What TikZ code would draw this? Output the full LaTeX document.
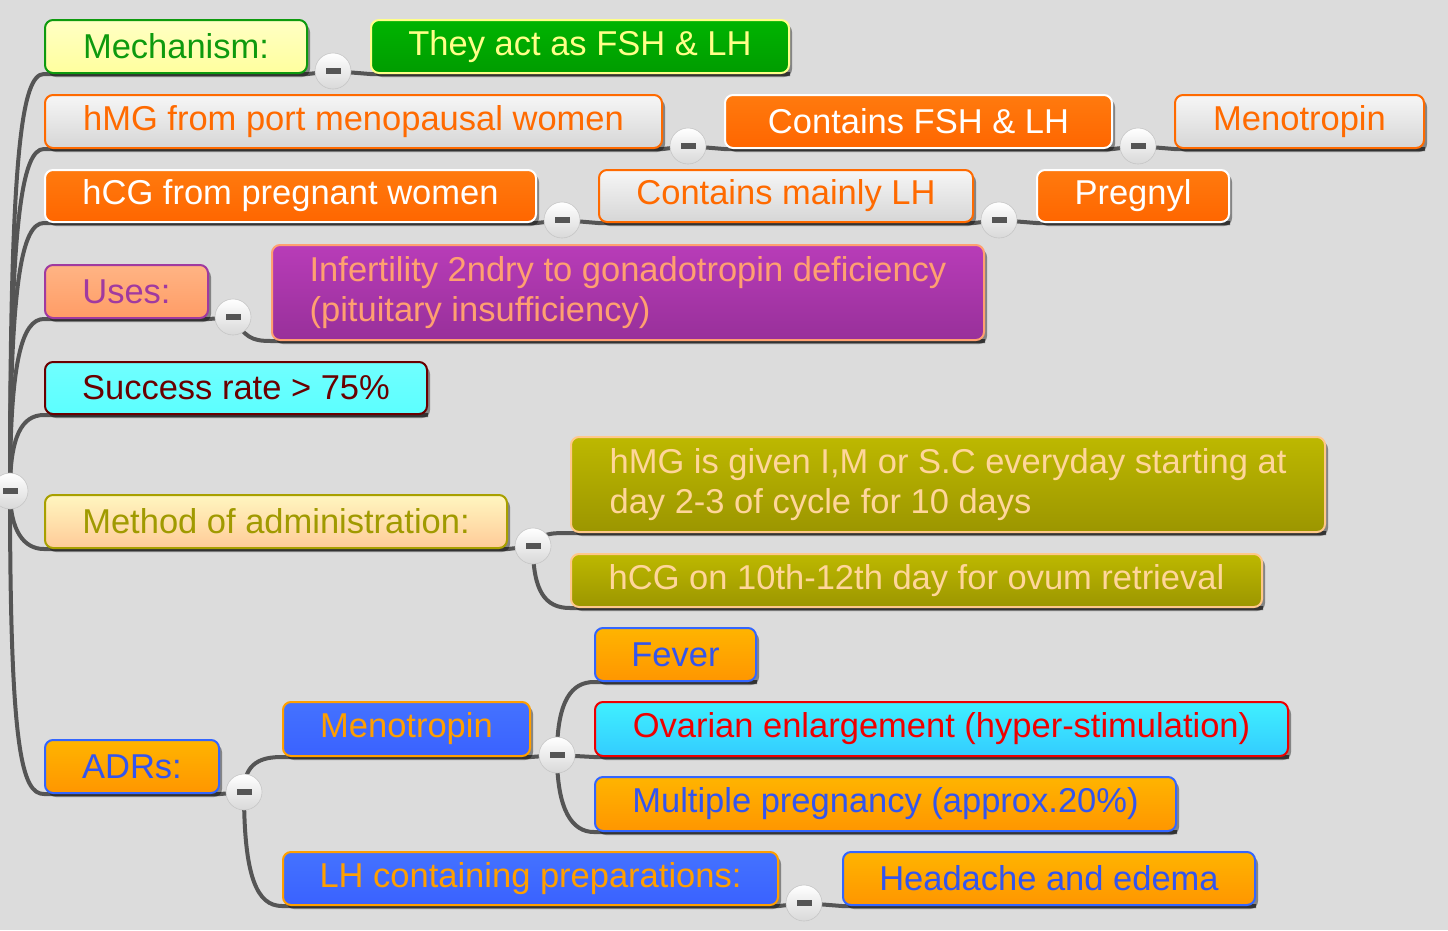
\documentclass[tikz,border=0pt]{standalone}
\usepackage{fontspec}
\setmainfont{Liberation Sans}
\usetikzlibrary{shadows,backgrounds}

\definecolor{paper}{HTML}{DCDCDC}
\definecolor{wire}{HTML}{555555}

\tikzset{
  box/.style={rectangle, rounded corners=8pt, line width=2pt, anchor=north west,
    inner sep=0pt, minimum height=53pt, font=\fontsize{34.5}{40}\selectfont,
    drop shadow={shadow xshift=3pt, shadow yshift=-4pt, opacity=.4, fill=black}},
  yellowbox/.style={top color={rgb,255:red,255;green,255;blue,196}, bottom color={rgb,255:red,255;green,255;blue,158},
    draw={rgb,255:red,14;green,154;blue,14}, text={rgb,255:red,14;green,154;blue,14}},
  greenbox/.style={top color={rgb,255:red,0;green,180;blue,0}, bottom color={rgb,255:red,0;green,156;blue,0},
    draw={rgb,255:red,255;green,255;blue,136}, text={rgb,255:red,255;green,255;blue,136}},
  palebox/.style={top color={rgb,255:red,246;green,246;blue,246}, bottom color={rgb,255:red,214;green,214;blue,214},
    draw={rgb,255:red,255;green,106;blue,0}, text={rgb,255:red,255;green,106;blue,0}},
  orangebox/.style={top color={rgb,255:red,255;green,122;blue,14}, bottom color={rgb,255:red,255;green,102;blue,0},
    draw=white, text=white},
  usesbox/.style={top color={rgb,255:red,255;green,180;blue,132}, bottom color={rgb,255:red,255;green,156;blue,102},
    draw={rgb,255:red,160;green,58;blue,160}, text={rgb,255:red,160;green,58;blue,160}},
  purplebox/.style={top color={rgb,255:red,184;green,60;blue,184}, bottom color={rgb,255:red,152;green,48;blue,154},
    draw={rgb,255:red,255;green,160;blue,112}, text={rgb,255:red,255;green,160;blue,112}},
  cyanbox/.style={top color={rgb,255:red,112;green,255;blue,255}, bottom color={rgb,255:red,92;green,255;blue,255},
    draw={rgb,255:red,106;green,0;blue,0}, text={rgb,255:red,106;green,0;blue,0}},
  peachbox/.style={top color={rgb,255:red,255;green,246;blue,192}, bottom color={rgb,255:red,255;green,203;blue,152},
    draw={rgb,255:red,168;green,160;blue,0}, text={rgb,255:red,160;green,154;blue,0}},
  olivebox/.style={top color={rgb,255:red,189;green,184;blue,0}, bottom color={rgb,255:red,156;green,150;blue,0},
    draw={rgb,255:red,255;green,200;blue,138}, text={rgb,255:red,255;green,214;blue,154}},
  adrbox/.style={top color={rgb,255:red,255;green,180;blue,0}, bottom color={rgb,255:red,255;green,150;blue,0},
    draw={rgb,255:red,51;green,102;blue,255}, text={rgb,255:red,51;green,85;blue,238}},
  bluebox/.style={top color={rgb,255:red,68;green,114;blue,255}, bottom color={rgb,255:red,58;green,98;blue,255},
    draw={rgb,255:red,255;green,159;blue,0}, text={rgb,255:red,255;green,159;blue,0}},
  redbox/.style={top color={rgb,255:red,64;green,240;blue,255}, bottom color={rgb,255:red,51;green,204;blue,255},
    draw={rgb,255:red,238;green,0;blue,0}, text={rgb,255:red,238;green,0;blue,0}},
  link/.style={draw=wire, line width=4pt, line join=round},
  fold/.style={circle, minimum size=36pt, inner sep=0pt, top color=white, bottom color=gray!30,
    draw=gray!45, line width=.6pt},
}
\newcommand{\minus}{\textcolor{wire}{\rule{15pt}{6pt}}}

\begin{document}
\begin{tikzpicture}[x=1pt,y=-1pt]
  \useasboundingbox (0,0) rectangle (1448,930);

  % first level
  \node[box, yellowbox, minimum width=262pt] (mech) at (44,19) {Mechanism:};
  \node[box, palebox, minimum width=617pt] (hmg) at (44,94) {hMG from port menopausal women};
  \node[box, orangebox, minimum width=491pt, minimum height=52pt] (hcg) at (44,169) {hCG from pregnant women};
  \node[box, usesbox, minimum width=163pt] (uses) at (44,264) {Uses:};
  \node[box, cyanbox, minimum width=382pt, minimum height=52pt] (success) at (44,361) {Success rate > 75\%};
  \node[box, peachbox, minimum width=462pt] (method) at (44,494) {Method of administration:};
  \node[box, adrbox, minimum width=174pt] (adr) at (44,739) {ADRs:};

  % second level
  \node[box, greenbox, minimum width=418pt] (act) at (370,19) {They act as FSH \& LH};
  \node[box, orangebox, minimum width=387pt] (fshlh) at (724,94) {Contains FSH \& LH};
  \node[box, palebox, minimum width=249pt] (meno) at (1174,94) {Menotropin};
  \node[box, palebox, minimum width=374pt, minimum height=52pt] (mainlh) at (598,169) {Contains mainly LH};
  \node[box, orangebox, minimum width=192pt, minimum height=52pt] (pregnyl) at (1036,169) {Pregnyl};
  \node[box, purplebox, minimum width=712pt, minimum height=95pt, align=left] (infert) at (271,244)
    {Infertility 2ndry to gonadotropin deficiency\\(pituitary insufficiency)};
  \node[box, olivebox, minimum width=754pt, minimum height=95pt, align=left] (given) at (570,436)
    {hMG is given I,M or S.C everyday starting at\\day 2-3 of cycle for 10 days};
  \node[box, olivebox, minimum width=691pt] (ovum) at (570,553) {hCG on 10th-12th day for ovum retrieval};
  \node[box, bluebox, minimum width=247pt, minimum height=54pt] (adrmeno) at (282,701) {Menotropin};
  \node[box, bluebox, minimum width=495pt] (lhprep) at (282,851) {LH containing preparations:};
  \node[box, adrbox, minimum width=161pt] (fever) at (594,627) {Fever};
  \node[box, redbox, minimum width=693pt, minimum height=54pt] (ovary) at (594,701) {Ovarian enlargement (hyper-stimulation)};
  \node[box, adrbox, minimum width=581pt, minimum height=54pt] (multi) at (594,776) {Multiple pregnancy (approx.20\%)};
  \node[box, adrbox, minimum width=412pt] (edema) at (842,851) {Headache and edema};

  % fold buttons
  \node[fold] (rootfold) at (10,491) {\minus};
  \node[fold] (mechfold) at (333,71) {\minus};
  \node[fold] (hmgfold) at (688,146) {\minus};
  \node[fold] (fshfold) at (1138,146) {\minus};
  \node[fold] (hcgfold) at (562,220) {\minus};
  \node[fold] (lhfold) at (999,220) {\minus};
  \node[fold] (usesfold) at (233,317) {\minus};
  \node[fold] (methfold) at (533,546) {\minus};
  \node[fold] (adrfold) at (244,792) {\minus};
  \node[fold] (menofold) at (557,755) {\minus};
  \node[fold] (prepfold) at (804,903) {\minus};

  \begin{scope}[on background layer]
    \fill[paper] (0,0) rectangle (1448,930);
    % root branches
    \draw[link] (rootfold.center) .. controls +(0,-340) and +(-22,0) .. (mech.south west)
      -- (mech.south east) -- (mechfold.center) -- (act.south west) -- (act.south east);
    \draw[link] (rootfold.center) .. controls +(0,-270) and +(-22,0) .. (hmg.south west)
      -- (hmg.south east) -- (hmgfold.center) -- (fshlh.south west) -- (fshlh.south east)
      -- (fshfold.center) -- (meno.south west) -- (meno.south east);
    \draw[link] (rootfold.center) .. controls +(0,-210) and +(-22,0) .. (hcg.south west)
      -- (hcg.south east) -- (hcgfold.center) -- (mainlh.south west) -- (mainlh.south east)
      -- (lhfold.center) -- (pregnyl.south west) -- (pregnyl.south east);
    \draw[link] (rootfold.center) .. controls +(0,-130) and +(-22,0) .. (uses.south west)
      -- (uses.south east) -- (usesfold.center) .. controls +(12,20) and +(-20,0) .. (infert.south west)
      -- (infert.south east);
    \draw[link] (rootfold.center) .. controls +(0,-55) and +(-22,0) .. (success.south west)
      -- (success.south east);
    \draw[link] (rootfold.center) .. controls +(0,40) and +(-20,0) .. (method.south west)
      -- (method.south east) -- (methfold.center);
    \draw[link] (methfold.center) .. controls +(8,-13) and +(-20,0) .. (given.south west) -- (given.south east);
    \draw[link] (methfold.center) .. controls +(0,45) and +(-25,0) .. (ovum.south west) -- (ovum.south east);
    \draw[link] (rootfold.center) .. controls +(0,260) and +(-22,0) .. (adr.south west)
      -- (adr.south east) -- (adrfold.center);
    % adverse reactions
    \draw[link] (adrfold.center) .. controls +(0,-30) and +(-20,0) .. (adrmeno.south west)
      -- (adrmeno.south east) -- (menofold.center);
    \draw[link] (adrfold.center) .. controls +(0,85) and +(-25,0) .. (lhprep.south west)
      -- (lhprep.south east) -- (prepfold.center) -- (edema.south west) -- (edema.south east);
    \draw[link] (menofold.center) .. controls +(0,-55) and +(-22,0) .. (fever.south west) -- (fever.south east);
    \draw[link] (menofold.center) -- (ovary.south west) -- (ovary.south east);
    \draw[link] (menofold.center) .. controls +(0,55) and +(-22,0) .. (multi.south west) -- (multi.south east);
  \end{scope}
\end{tikzpicture}
\end{document}
